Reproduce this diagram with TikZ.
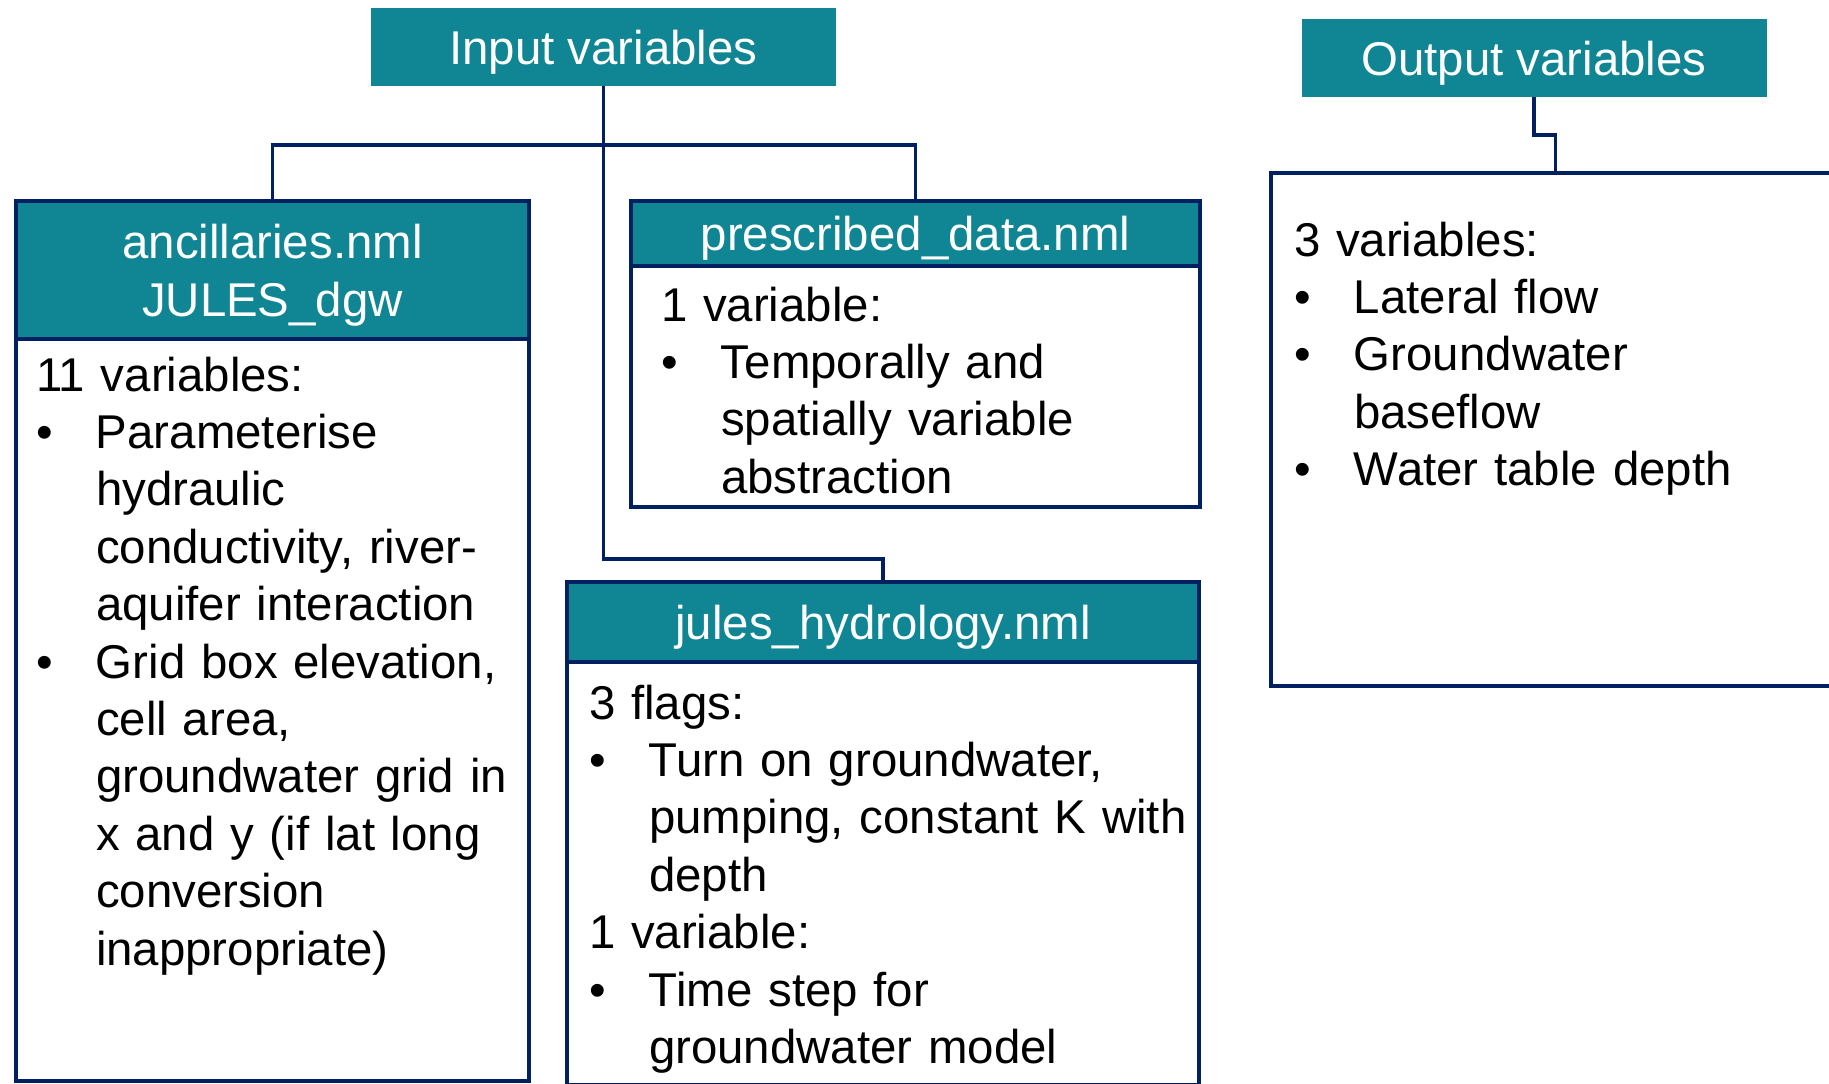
\documentclass[tikz,border=0pt]{standalone}
\usepackage{fontspec}
\setmainfont{Liberation Sans}
\usepackage{tikz}
\usetikzlibrary{positioning}
\definecolor{hdrteal}{RGB}{16,133,147}
\definecolor{navyline}{RGB}{0,32,96}
\newcommand{\bpt}{\par\hangindent=30pt\hangafter=1\noindent\makebox[30pt][l]{\textbullet}}
\newcommand{\nl}{\hfil\break}
\newcommand{\hdrtext}[1]{\raisebox{-3pt}[\height][\depth]{\begin{tabular}{@{}c@{}}#1\end{tabular}}}

\begin{document}
\begin{tikzpicture}[x=0.5pt, y=-0.5pt, outer sep=0pt,
    every node/.style={font=\fontsize{23.7}{28.7}\selectfont},
    title/.style={fill=hdrteal, text=white, minimum width=232.5pt, minimum height=39pt, inner sep=0pt},
    hdr/.style={draw=navyline, line width=2pt, fill=hdrteal, text=white, inner sep=0pt, outer sep=0pt},
    panel/.style={draw=navyline, line width=2pt, fill=white, inner sep=0pt, outer sep=0pt},
    bodytext/.style={anchor=base west, inner sep=0pt, text width=#1},
    link/.style={draw=navyline, line width=1.9pt}]
  \useasboundingbox (0,0) rectangle (1829,1083);

  % top titles
  \node[title] (inp) at (603.5,47) {\hdrtext{Input variables}};
  \node[title] (out) at (1534,58) {\hdrtext{Output variables}};

  % input boxes
  \node[hdr, anchor=north west, minimum width=256.5pt, minimum height=69pt] (anc) at (16,201) {\hdrtext{ancillaries.nml\\JULES\_dgw}};
  \node[panel, below=0pt of anc, minimum width=256.5pt, minimum height=371pt] (ancb) {};
  \node[hdr, anchor=north west, minimum width=284.5pt, minimum height=32.5pt] (pre) at (631,201) {\hdrtext{prescribed\_data.nml}};
  \node[panel, below=0pt of pre, minimum width=284.5pt, minimum height=120.5pt] (preb) {};
  \node[hdr, anchor=north west, minimum width=316pt, minimum height=40pt] (jul) at (567,582) {\hdrtext{jules\_hydrology.nml}};
  \node[panel, below=0pt of jul, minimum width=316pt, minimum height=211.5pt] (julb) {};

  % output box
  \node[panel, anchor=north west, minimum width=284.5pt, minimum height=256.5pt] (outb) at (1271,173) {};

  % box texts
  \node[bodytext=250pt] (anct) at (36,391) {11 variables:\bpt Parameterise\nl hydraulic\nl conductivity, river-\nl aquifer interaction\bpt Grid box elevation,\nl cell area,\nl groundwater grid in\nl x and y (if lat long\nl conversion\nl inappropriate)\par};
  \node[bodytext=270pt] (pret) at (661,321) {1 variable:\bpt Temporally and\nl spatially variable\nl abstraction\par};
  \node[bodytext=310pt] (jult) at (589,719) {3 flags:\bpt Turn on groundwater,\nl pumping, constant K with\nl depth\par 1 variable:\bpt Time step for\nl groundwater model\par};
  \node[bodytext=270pt] (outt) at (1294,256) {3 variables:\bpt Lateral flow\bpt Groundwater\nl baseflow\bpt Water table depth\par};

  % connectors
  \coordinate (bus) at (603.5,145);
  \coordinate (fork) at (603.5,559);
  \coordinate (jog) at (1534,135);
  \draw[link] (inp.south) -- (fork) -| (jul.north);
  \draw[link] (anc.north) |- (bus) -| (pre.north);
  \draw[link] (out.south) -- (jog) -| (outb.north);
\end{tikzpicture}
\end{document}
